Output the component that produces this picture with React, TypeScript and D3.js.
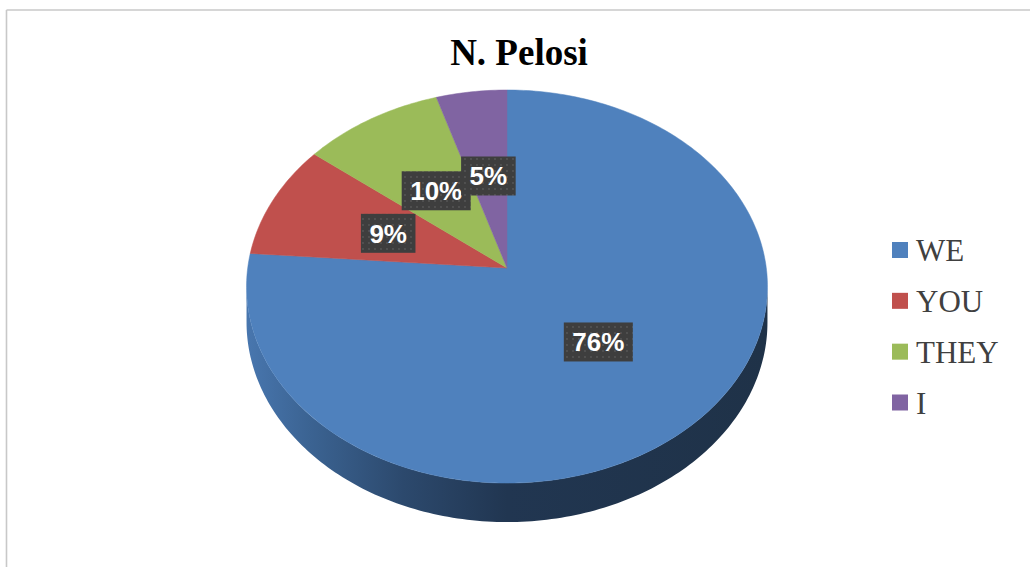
import React from "react";
import * as d3 from "d3";

const categories = ["WE", "YOU", "THEY", "I"];
const values = [76.2, 9.4, 9.6, 4.8];
const colors = ["#4f81bd", "#c0504d", "#9bbb59", "#8064a2"];
const title = "N. Pelosi";

const W = 1030;
const H = 567;
const cx = 507;
const cy = 268;
const A = 259.3;
const B = 194.8;
const K = -0.0943;
const DEPTH = 35.3;

function proj(theta: number, r: number, depth: number): [number, number] {
  const u = r * Math.sin(theta);
  const v = -r * Math.cos(theta);
  const w = 1 + K * v;
  return [cx + (A * u) / w, cy + (B * v) / w + depth / w];
}

function arcPoints(a0: number, a1: number, depth: number): [number, number][] {
  const n = Math.max(2, Math.ceil(((a1 - a0) * 180) / Math.PI));
  const pts: [number, number][] = [];
  for (let i = 0; i <= n; i++) {
    pts.push(proj(a0 + ((a1 - a0) * i) / n, 1, depth));
  }
  return pts;
}

const line = d3.line<[number, number]>().curve(d3.curveLinear);

export default function App() {
  const total = d3.sum(values);
  const pie = d3
    .pie<number>()
    .sort(null)
    .value((d) => d)(values);

  const visStart = Math.acos(K);
  const visEnd = 2 * Math.PI - visStart;

  const sides = pie
    .map((p, i) => {
      const a0 = Math.max(p.startAngle, visStart);
      const a1 = Math.min(p.endAngle, visEnd);
      if (a1 <= a0) return null;
      const top = arcPoints(a0, a1, 0);
      const bot = arcPoints(a0, a1, DEPTH).reverse();
      return { i, d: line([...top, ...bot]) + "Z" };
    })
    .filter(Boolean) as { i: number; d: string }[];

  const tops = pie.map((p, i) => {
    const pts: [number, number][] = [proj(0, 0, 0), ...arcPoints(p.startAngle, p.endAngle, 0)];
    return { i, d: line(pts) + "Z" };
  });

  const FS = 26;
  const labels = pie.map((p, i) => {
    const mid = (p.startAngle + p.endAngle) / 2;
    const [x, y] = proj(mid, 0.5, 0);
    const txt = Math.round((values[i] / total) * 100) + "%";
    const tw = txt.split("").reduce((s, c) => s + (c === "%" ? 0.889 : 0.556), 0) * FS;
    return { x, y, txt, bw: tw + 17 };
  });

  const legendY = d3.scalePoint<string>().domain(categories).range([250, 402.5]);

  return (
    <svg
      width={W}
      height={H}
      style={{ position: "absolute", left: 0, top: 0, background: "#fff" }}
    >
      <defs>
        <linearGradient id="sideGrad" gradientUnits="userSpaceOnUse" x1={cx - A} x2={cx + A} y1={0} y2={0}>
          <stop offset="0%" stopColor="#4876ae" />
          <stop offset="12%" stopColor="#3b6392" />
          <stop offset="30%" stopColor="#2c496d" />
          <stop offset="50%" stopColor="#213651" />
          <stop offset="100%" stopColor="#1f3248" />
        </linearGradient>
        <pattern id="dots" width="6" height="6" patternUnits="userSpaceOnUse">
          <rect width="6" height="6" fill="#3e3e3e" />
          <circle cx="3" cy="3" r="0.9" fill="#575757" />
        </pattern>
      </defs>
      <line x1={6.5} y1={10} x2={W} y2={10} stroke="#c8c8c8" strokeWidth={1.6} />
      <line x1={6.5} y1={10} x2={6.5} y2={H} stroke="#c8c8c8" strokeWidth={1.6} />

      <text
        x={519}
        y={64.5}
        textAnchor="middle"
        fontFamily="'Liberation Serif', 'Times New Roman', serif"
        fontWeight="bold"
        fontSize={37}
        fill="#000"
      >
        {title}
      </text>

      {sides.map((s) => (
        <path key={"s" + s.i} d={s.d} fill={s.i === 0 ? "url(#sideGrad)" : d3.color(colors[s.i])!.darker(1.5).toString()} />
      ))}
      {tops.map((t) => (
        <path key={"t" + t.i} d={t.d} fill={colors[t.i]} stroke={colors[t.i]} strokeWidth={0.5} />
      ))}

      {labels.map((l, i) => (
        <g key={"l" + i}>
          <rect x={l.x - l.bw / 2} y={l.y - 19.5} width={l.bw} height={39} fill="url(#dots)" />
          <text
            x={l.x}
            y={l.y + 9.5}
            textAnchor="middle"
            fontFamily="'Liberation Sans', Arial, sans-serif"
            fontWeight="bold"
            fontSize={FS}
            fill="#fff"
          >
            {l.txt}
          </text>
        </g>
      ))}

      {categories.map((c, i) => (
        <g key={"g" + c}>
          <rect x={892} y={legendY(c)! - 8} width={16} height={16} fill={colors[i]} />
          <text
            x={916}
            y={legendY(c)! + 11}
            fontFamily="'Liberation Serif', 'Times New Roman', serif"
            fontSize={31}
            fill="#404040"
          >
            {c}
          </text>
        </g>
      ))}
    </svg>
  );
}
